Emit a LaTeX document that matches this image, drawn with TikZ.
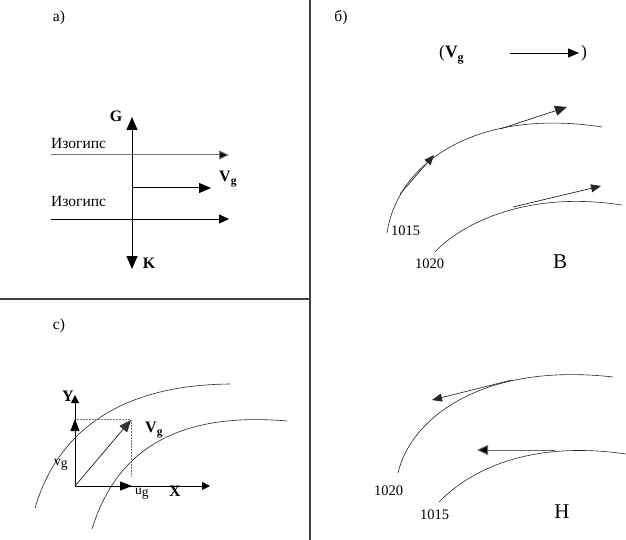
\documentclass[tikz,border=0pt]{standalone}
\usepackage{fontspec}
\setmainfont{Liberation Serif}
\usetikzlibrary{arrows.meta}
\tikzset{
  sep/.style={line width=1.1pt, draw=black!75},
  axis/.style={line width=1pt, draw=black},
  iso/.style={line width=0.6pt, draw=black!85},
  bigtip/.style={-{Triangle[length=12pt,width=10pt]}},
  midtip/.style={-{Triangle[length=10pt,width=8pt]}},
  thinarr/.style={line width=0.7pt, draw=black!85},
  txt/.style={inner sep=0pt, font=\fontsize{15.5}{17}\selectfont},
  num/.style={inner sep=0pt, font=\fontsize{14.5}{16}\selectfont},
  bld/.style={inner sep=0pt, font=\fontsize{16}{18}\selectfont\bfseries},
  big/.style={inner sep=0pt, font=\fontsize{21}{24}\selectfont},
  dot/.style={line width=0.5pt, draw=black!55, densely dotted},
}
\begin{document}
\begin{tikzpicture}[x=1pt,y=-1pt]
\useasboundingbox (0,0) rectangle (626,540);
% separators
\coordinate (st) at (310,0); \coordinate (sb) at (310,540);
\coordinate (hl) at (0,299); \coordinate (hr) at (310,299);
\draw[sep] (st) -- (sb);
\draw[sep] (hl) -- (hr);

% ---------- panel a ----------
\node[txt] (la) at (59,18) {а)};
\coordinate (gtip) at (132,117);
\coordinate (ktip) at (132,269);
\draw[axis, {Triangle[length=13pt,width=11pt]}-{Triangle[length=13pt,width=11pt]}] (gtip) -- (ktip);
\node[bld] (G) at (116,116) {G};
\node[bld] (K) at (149,263) {K};
\coordinate (i1a) at (51,155); \coordinate (i1b) at (229,155);
\coordinate (i2a) at (51,219); \coordinate (i2b) at (229,219);
\draw[line width=1pt, draw=black!55, -{Triangle[length=10pt,width=9pt,fill=black]}] (i1a) -- (i1b);
\draw[axis, -{Triangle[length=10pt,width=9pt]}] (i2a) -- (i2b);
\node[txt, anchor=base west] (iz1) at (51,149) {Изогипс};
\node[txt, anchor=base west] (iz2) at (51,207) {Изогипс};
\coordinate (vga) at (132,188); \coordinate (vgb) at (211,188);
\draw[axis, -{Triangle[length=12pt,width=10pt]}] (vga) -- (vgb);
\node[bld, anchor=base west] (Vg1) at (219,182) {V\raisebox{-3pt}{\fontsize{11.5}{12}\selectfont g}};

% ---------- panel b ----------
\node[txt] (lb) at (341,18) {б)};
\node[inner sep=0pt, font=\fontsize{17.5}{19}\selectfont\bfseries, anchor=base west] (pv) at (439,58) {\mdseries(\bfseries V\raisebox{-3.5pt}{\fontsize{12}{13}\selectfont g}};
\coordinate (la1) at (510,53); \coordinate (la2) at (579,53);
\draw[axis, line width=0.9pt, -{Triangle[length=11pt,width=9pt]}] (la1) -- (la2);
\node[inner sep=0pt, font=\fontsize{17.5}{19}\selectfont, anchor=base west] (pc) at (581,58) {)};

\draw[iso] (387,233) .. controls (398,160) and (480,108) .. (602,127);
\draw[iso] (435,252) .. controls (460,225) and (525,190) .. (622,205);
\coordinate (b1a) at (400,194); \coordinate (b1b) at (434,155);
\coordinate (b2a) at (500,129); \coordinate (b2b) at (567,107);
\coordinate (b3a) at (513,207); \coordinate (b3b) at (601,186);
\draw[thinarr, midtip] (b1a) -- (b1b);
\draw[thinarr, bigtip] (b2a) -- (b2b);
\draw[thinarr, midtip] (b3a) -- (b3b);
\node[num, anchor=base west] (n1015b) at (391,235) {1015};
\node[num, anchor=base west] (n1020b) at (415,268) {1020};
\node[big] (B) at (560,262) {В};

% ---------- panel c ----------
\node[txt] (lc) at (59,326) {с)};
\draw[iso] (35,508) .. controls (55,440) and (110,385) .. (230,384);
\draw[iso] (92,529) .. controls (112,465) and (160,410) .. (287,421);
\coordinate (O) at (75,486);
\coordinate (Ytip) at (75,395);
\coordinate (Xtip) at (210,486);
\coordinate (Vtip) at (131,420);
\coordinate (vy) at (75,419);
\coordinate (ux) at (132,486);
\coordinate (cc) at (131,419);
\coordinate (cb) at (131,477);
\draw[dot] (vy) -- (cc) -- (cb);
\draw[axis, -{Triangle[length=8pt,width=8pt]}] (O) -- (Ytip);
\draw[axis, -{Triangle[length=8pt,width=8pt]}] (O) -- (Xtip);
\draw[axis, -{Triangle[length=12pt,width=9pt]}] (O) -- (vy);
\draw[axis, -{Triangle[length=12pt,width=9pt]}] (O) -- (ux);
\draw[line width=0.8pt, draw=black!80, -{Triangle[length=12pt,width=10pt]}] (O) -- (Vtip);
\node[bld] (Y) at (68,396) {Y};
\node[bld] (X) at (175,491) {X};
\node[bld, anchor=base west] (Vg3) at (145,432) {V\raisebox{-3pt}{\fontsize{11.5}{12}\selectfont g}};
\node[inner sep=0pt, font=\fontsize{13.5}{14}\selectfont, anchor=base west] (vgl) at (54,465) {v\raisebox{-2pt}{g}};
\node[inner sep=0pt, font=\fontsize{13.5}{14}\selectfont, anchor=base west] (ugl) at (135,494) {u\raisebox{-2pt}{g}};

% ---------- panel d ----------
\draw[iso] (398,473) .. controls (410,420) and (480,362) .. (613,377);
\draw[iso] (439,502) .. controls (470,470) and (530,440) .. (626,454);
\coordinate (d1a) at (512,380); \coordinate (d1b) at (432,400);
\coordinate (d2a) at (555,450); \coordinate (d2b) at (477,450);
\draw[thinarr, midtip] (d1a) -- (d1b);
\draw[thinarr, line width=1pt, draw=black!60, -{Triangle[length=11pt,width=10pt,fill=black]}] (d2a) -- (d2b);
\node[num, anchor=base west] (n1020d) at (374,495) {1020};
\node[num, anchor=base west] (n1015d) at (420,519) {1015};
\node[big] (H) at (562,512) {Н};
\end{tikzpicture}
\end{document}
